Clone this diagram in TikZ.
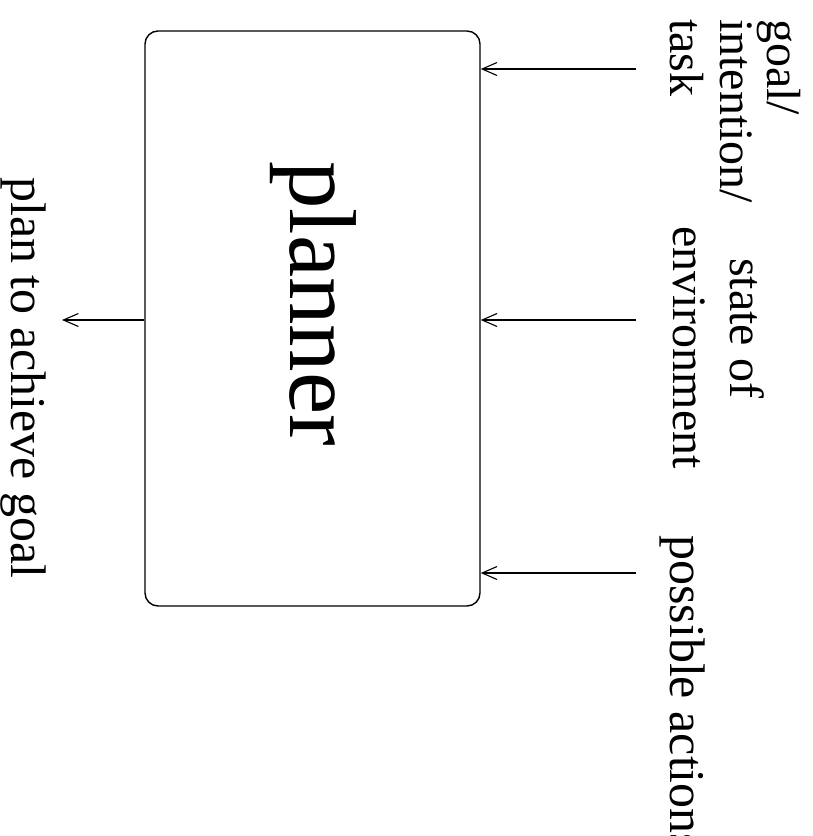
\documentclass[tikz,border=0pt]{standalone}
\usepackage{fontspec}
\setmainfont{Liberation Serif}
\usetikzlibrary{arrows.meta}
\begin{document}
\begin{tikzpicture}[x=1pt,y=1pt,
  lbl/.style={rotate=-90,anchor=base west,inner sep=0pt,font=\fontsize{48}{49}\selectfont},
  biglbl/.style={lbl,font=\fontsize{50}{51}\selectfont},
  arr/.style={line width=1.1pt,-{Straight Barb[length=15pt,width=13pt,line width=1.1pt]}},
  boxstyle/.style={draw,line width=1.4pt,rounded corners=13pt,minimum width=335pt,minimum height=575pt,inner sep=0pt}]
\useasboundingbox (0,0) rectangle (813,-836);
\node[boxstyle] (box) at (312.5,-318.5) {};
\node[rotate=-90,anchor=base west,inner sep=0pt,font=\fontsize{95}{95}\selectfont] (title) at (290,-161) {planner};
% labels
\node[lbl] (goal) at (767,-19) {goal/};
\node[lbl] (intent) at (720,-19) {intention/};
\node[lbl] (task) at (670,-19) {task};
\node[lbl] (state) at (730,-258) {state of};
\node[lbl] (env) at (673,-226) {environment};
\node[biglbl] (poss) at (670,-535) {possible actions};
\node[biglbl] (plan) at (12,-177) {plan to achieve goal};
% connectors
\coordinate (in1) at (636,-69);
\coordinate (in2) at (636,-320);
\coordinate (in3) at (636,-573);
\coordinate (out) at (62,-320);
\draw[arr] (in1) -- (box.east |- in1);
\draw[arr] (in2) -- (box.east |- in2);
\draw[arr] (in3) -- (box.east |- in3);
\draw[arr] (box.west |- out) -- (out);
\end{tikzpicture}
\end{document}
